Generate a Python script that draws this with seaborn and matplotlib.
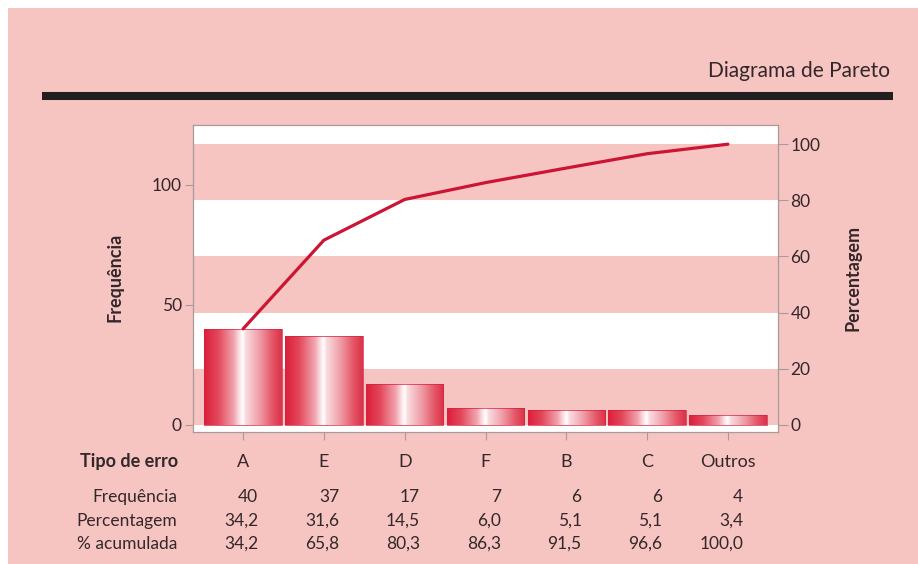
import numpy as np
import matplotlib
matplotlib.use("Agg")
import matplotlib.pyplot as plt
from matplotlib.colors import LinearSegmentedColormap
from matplotlib.patches import Rectangle
from matplotlib.lines import Line2D
import seaborn as sns
import pandas as pd

# Error types, counts and percentages
tipos = ["A", "E", "D", "F", "B", "C", "Outros"]
frequencia = [40, 37, 17, 7, 6, 6, 4]
percentagem = [34.2, 31.6, 14.5, 6.0, 5.1, 5.1, 3.4]
acumulada = [34.2, 65.8, 80.3, 86.3, 91.5, 96.6, 100.0]
freq_ticks = [0, 50, 100]
pct_ticks = [0, 20, 40, 60, 80, 100]
total = sum(frequencia)

BG = "#f7c5c1"
TXT = "#33272a"
RED = "#cc1434"
GRID = "#a89a9a"

sns.set_style("white")
plt.rcParams["font.family"] = ["Lato", "DejaVu Sans"]

W, H = 918, 564
fig = plt.figure(figsize=(W / 100, H / 100), dpi=100)
fig.patch.set_facecolor("white")
fig.patches.append(Rectangle((8 / W, 0), 1, (H - 8) / H, transform=fig.transFigure,
                             facecolor=BG, edgecolor="none", zorder=-10))

ax = fig.add_axes([193 / W, (H - 432) / H, 585 / W, 307 / H])
ax.set_facecolor("white")

df = pd.DataFrame({"tipo": tipos, "freq": frequencia})
sns.barplot(data=df, x="tipo", y="freq", order=tipos, ax=ax, width=0.96,
            color=RED, saturation=1, zorder=2)

ylo, yhi = -3, 125
xlo, xhi = -0.62, len(tipos) - 1 + 0.62

# Alternating pink bands following the percentage scale
for lo, hi in [(0, 20), (40, 60), (80, 100)]:
    ax.axhspan(lo * total / 100, hi * total / 100, color=BG, lw=0, zorder=0.5)

# Horizontal gradient fill for each bar
cmap = LinearSegmentedColormap.from_list("barfill", [
    (0.00, "#dc1f3a"), (0.18, "#e3475b"), (0.38, "#f1a3ad"), (0.47, "#fdeef0"),
    (0.50, "#ffffff"), (0.53, "#f9dde0"), (0.70, "#f0a2ab"), (0.88, "#e45567"),
    (1.00, "#db3249")])
grad = np.linspace(0, 1, 256).reshape(1, -1)
for bar in ax.containers[0]:
    x0, w, h = bar.get_x(), bar.get_width(), bar.get_height()
    ax.imshow(grad, extent=(x0, x0 + w, 0, h), aspect="auto", cmap=cmap,
              interpolation="bilinear", zorder=2)
    bar.set_facecolor("none")
    bar.set_edgecolor("#d42040")
    bar.set_linewidth(0.5)
    bar.set_zorder(2.1)

ax.set_xlim(xlo, xhi)
ax.set_ylim(ylo, yhi)
ax.set_yticks(freq_ticks)
ax.set_xlabel("")
ax.set_ylabel("")

# Cumulative percentage on the right axis
ax2 = ax.twinx()
ax2.patch.set_visible(False)
sns.lineplot(x=np.arange(len(tipos)), y=acumulada, ax=ax2, color=RED, lw=2.3)
ax2.set_ylim(ylo * 100 / total, yhi * 100 / total)
ax2.set_yticks(pct_ticks)
ax2.set_xlim(xlo, xhi)
ax2.set_ylabel("")

for a in (ax, ax2):
    for s in a.spines.values():
        s.set_color(GRID)
        s.set_linewidth(0.8)
ax.tick_params(axis="y", direction="out", length=6, width=0.8, color=GRID,
               labelsize=12.5, labelcolor=TXT, pad=2, left=True)
ax.tick_params(axis="x", direction="out", length=6, width=0.8, color=GRID,
               labelsize=13, labelcolor=TXT, pad=10, bottom=True)
ax2.tick_params(axis="y", direction="out", length=7, width=0.8, color=GRID,
                labelsize=12.5, labelcolor=TXT, pad=2, right=True)

fig.text(115 / W, 1 - 277 / H, "Frequência", rotation=90, ha="center", va="center",
         fontsize=13, fontweight="bold", color=TXT)
fig.text(853 / W, 1 - 278 / H, "Percentagem", rotation=90, ha="center", va="center",
         fontsize=13, fontweight="bold", color=TXT)

# Title and rule
fig.text(890 / W, 1 - 71 / H, "Diagrama de Pareto", ha="right", va="center",
         fontsize=15, color=TXT)
fig.lines.append(Line2D([42 / W, 893 / W], [1 - 96 / H] * 2, transform=fig.transFigure,
                        lw=5.8, color="#231f20", solid_capstyle="butt"))

# Summary table under the axis
fig.text(178 / W, 1 - 461 / H, "Tipo de erro", ha="right", va="center",
         fontsize=13, fontweight="bold", color=TXT)
fmt = lambda v: f"{v:.1f}".replace(".", ",")
rows = [("Frequência", [str(v) for v in frequencia], 497),
        ("Percentagem", [fmt(v) for v in percentagem], 521),
        ("% acumulada", [fmt(v) for v in acumulada], 544)]
for label, vals, ypx in rows:
    fig.text(177 / W, 1 - ypx / H, label, ha="right", va="center", fontsize=12.5, color=TXT)
    for i, v in enumerate(vals):
        ax.annotate(v, xy=(i, 1 - ypx / H), xycoords=("data", "figure fraction"),
                    xytext=(11, 0), textcoords="offset points", ha="right", va="center",
                    fontsize=12.5, color=TXT, annotation_clip=False)

fig.savefig("out.png", dpi=100, facecolor=fig.get_facecolor())
